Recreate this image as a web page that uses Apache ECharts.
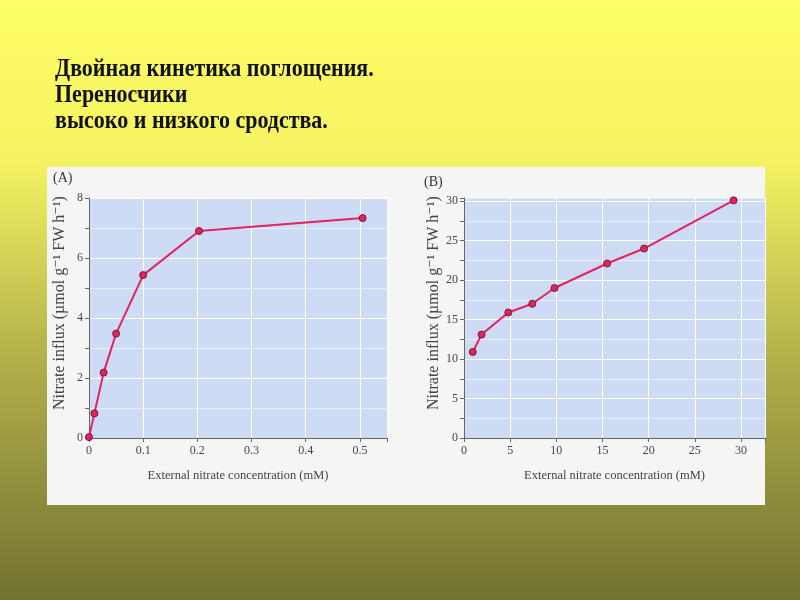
<!DOCTYPE html>
<html>
<head>
<meta charset="utf-8">
<script src="https://cdn.jsdelivr.net/npm/echarts@6/dist/echarts.min.js"></script>
<style>
html, body { margin: 0; padding: 0; }
#main { width: 800px; height: 600px; }
</style>
</head>
<body>
<div id="main"></div>
<script>
// panel A: low concentrations
var concA = [0, 0.01, 0.027, 0.05, 0.1, 0.203, 0.505]
var influxA = [0.03, 0.82, 2.18, 3.48, 5.43, 6.9, 7.33]
// panel B: high concentrations
var concB = [0.95, 1.9, 4.8, 7.4, 9.8, 15.5, 19.5, 29.2]
var influxB = [10.9, 13.1, 15.9, 17.0, 19.0, 22.1, 24.0, 30.1]

var titleLines = ['Двойная кинетика поглощения.', 'Переносчики', 'высоко и низкого сродства.']
var xName = 'External nitrate concentration (mM)'
var yName = 'Nitrate influx (µmol g⁻¹ FW h⁻¹)'

var serif = '"Liberation Serif", "DejaVu Serif", serif'
var lineColor = '#e0245e'

function pairs(xs, ys) {
    return xs.map(function (x, i) { return [x, ys[i]] })
}

function xAxisOf(idx, max, interval, shown) {
    return {
        type: 'value', gridIndex: idx, min: 0, max: max, interval: interval,
        name: xName, nameLocation: 'middle', nameGap: 31,
        nameTextStyle: { fontFamily: serif, fontSize: 12.5, color: '#444' },
        axisLine: { show: true, lineStyle: { color: '#666' } },
        axisTick: { show: true, length: 4, lineStyle: { color: '#666' } },
        axisLabel: {
            fontFamily: serif, fontSize: 12, color: '#444', margin: 7,
            formatter: function (v) { return v > shown + 1e-9 ? '' : String(v) }
        },
        splitLine: { show: true, lineStyle: { color: '#ffffff', width: 1 } }
    }
}

function yAxisOf(idx, max, interval, every, shown) {
    return {
        type: 'value', gridIndex: idx, min: 0, max: max, interval: interval,
        name: yName, nameLocation: 'middle', nameGap: 21,
        nameTextStyle: { fontFamily: serif, fontSize: 16, color: '#444', padding: [0, 0, 0, 30] },
        axisLine: { show: true, lineStyle: { color: '#666' } },
        axisTick: { show: true, length: 4, lineStyle: { color: '#666' } },
        axisLabel: {
            fontFamily: serif, fontSize: 12, color: '#444', margin: 6,
            formatter: function (v) {
                if (v > shown + 1e-9) return ''
                return Math.abs(v % every) < 1e-9 ? String(v) : ''
            }
        },
        splitLine: { show: true, lineStyle: { color: ['#ffffff', '#e9eefb'], width: 1 } }
    }
}

function lineSeries(idx, data) {
    return {
        type: 'line', xAxisIndex: idx, yAxisIndex: idx, data: data,
        symbol: 'circle', symbolSize: 7,
        lineStyle: { color: lineColor, width: 2 },
        itemStyle: { color: lineColor, borderColor: '#7a1a3a', borderWidth: 1 },
        animation: false
    }
}

var titleY = [69, 95, 121]
var titleGraphics = titleLines.map(function (t, i) {
    return {
        type: 'text', x: 55, y: titleY[i], scaleY: 1.15,
        style: { text: t, font: 'bold 22px ' + serif, fill: '#111', verticalAlign: 'middle' }
    }
})

var myChart = echarts.init(document.getElementById('main'))

var option = {
    backgroundColor: {
        type: 'linear', x: 0, y: 0, x2: 0, y2: 1,
        colorStops: [
            { offset: 0, color: '#ffff66' },
            { offset: 0.27, color: '#f4f262' },
            { offset: 0.6, color: '#b2b04a' },
            { offset: 1, color: '#727232' }
        ]
    },
    graphic: [
        { type: 'rect', z: -10, shape: { x: 47, y: 167, width: 718, height: 338 }, style: { fill: '#f5f5f5' } },
        { type: 'text', left: 53, top: 171, style: { text: '(A)', font: '14px ' + serif, fill: '#333' } },
        { type: 'text', left: 424, top: 175, style: { text: '(B)', font: '14px ' + serif, fill: '#333' } }
    ].concat(titleGraphics),
    grid: [
        { left: 89, top: 198, width: 298, height: 240, show: true, backgroundColor: '#cddbf5', borderWidth: 0 },
        { left: 464, top: 198, width: 301, height: 240, show: true, backgroundColor: '#cddbf5', borderWidth: 0 }
    ],
    xAxis: [
        xAxisOf(0, 0.55, 0.1, 0.5),
        xAxisOf(1, 32.6, 5, 30)
    ],
    yAxis: [
        yAxisOf(0, 8, 1, 2, 8),
        yAxisOf(1, 30.4, 2.5, 5, 30)
    ],
    series: [
        lineSeries(0, pairs(concA, influxA)),
        lineSeries(1, pairs(concB, influxB))
    ]
}

myChart.setOption(option)
</script>
</body>
</html>
